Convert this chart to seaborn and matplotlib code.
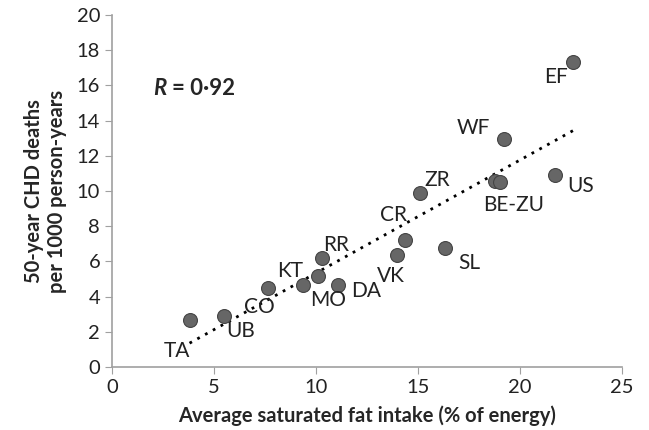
import numpy as np
import pandas as pd
import matplotlib
matplotlib.use("Agg")
import matplotlib.pyplot as plt
import seaborn as sns

# cohort codes, saturated fat (% energy), 50-year CHD deaths per 1000 person-years
cohorts = ["TA", "UB", "CO", "KT", "MO", "RR", "DA", "VK", "CR", "ZR",
           "SL", "BE", "ZU", "WF", "US", "EF"]
sat_fat = [3.8, 5.5, 7.65, 9.35, 10.1, 10.3, 11.1, 13.95, 14.35, 15.1,
           16.3, 18.75, 19.0, 19.2, 21.7, 22.6]
chd_deaths = [2.65, 2.9, 4.5, 4.65, 5.15, 6.2, 4.65, 6.35, 7.2, 9.9,
              6.75, 10.55, 10.5, 12.95, 10.9, 17.35]

x_ticks = [0, 5, 10, 15, 20, 25]
y_ticks = [0, 2, 4, 6, 8, 10, 12, 14, 16, 18, 20]

df = pd.DataFrame({"cohort": cohorts, "fat": sat_fat, "chd": chd_deaths})

sns.set_style("white")
plt.rcParams["font.family"] = ["Lato", "DejaVu Sans"]

fig = plt.figure(figsize=(6.49, 4.30), dpi=100)
ax = fig.add_axes([0.1726, 0.1465, 0.7858, 0.8185])

sns.scatterplot(data=df, x="fat", y="chd", ax=ax, s=100, color="#666666",
                edgecolor="#444444", linewidth=0.8, zorder=3)

# least squares trend line across the data range
slope, intercept = np.polyfit(df["fat"], df["chd"], 1)
xs = np.array([df["fat"].min(), df["fat"].max()])
ax.plot(xs, slope * xs + intercept, color="black", linestyle=(0, (1, 2.2)),
        linewidth=2, zorder=2)

# label offsets in points (dx, dy), halign
offsets = {
    "TA": (-9, -22, "center"), "UB": (12, -11, "center"), "CO": (-6, -14, "center"),
    "KT": (-9, 10, "center"), "MO": (7, -17, "center"), "RR": (10, 9, "center"),
    "DA": (9, -4, "left"), "VK": (-4, -15, "center"), "CR": (-8, 18, "center"),
    "ZR": (12, 9, "center"), "SL": (10, -11, "left"), "BE": (14, -17, "center"),
    "WF": (-22, 8, "center"), "US": (9, -8, "left"), "EF": (-12, -11, "center"),
}
for c, x, y in zip(cohorts, sat_fat, chd_deaths):
    if c == "ZU":
        continue
    dx, dy, ha = offsets[c]
    txt = "BE-ZU" if c == "BE" else c
    ax.annotate(txt, (x, y), xytext=(dx, dy), textcoords="offset points",
                ha=ha, va="center", fontsize=15, color="#222222")

ax.text(2.0, 15.85, "R", fontsize=16, fontweight="bold", fontstyle="italic",
        va="center", ha="left")
ax.annotate("= 0·92", (2.0, 15.85), xytext=(14, 0), textcoords="offset points",
            fontsize=16, fontweight="bold", va="center", ha="left")

ax.set_xlim(0, 25)
ax.set_ylim(0, 20)
ax.set_xticks(x_ticks)
ax.set_yticks(y_ticks)
ax.tick_params(axis="both", labelsize=14.5, length=5, color="#a0a0a0",
               direction="out", left=True, bottom=True, labelcolor="#222222")
for side in ["top", "right"]:
    ax.spines[side].set_visible(False)
for side in ["left", "bottom"]:
    ax.spines[side].set_color("#a0a0a0")
    ax.spines[side].set_linewidth(1.2)

ax.set_xlabel("Average saturated fat intake (% of energy)", fontsize=14.5,
              fontweight="bold", labelpad=7)
ax.set_ylabel("50-year CHD deaths\nper 1000 person-years", fontsize=14.5,
              fontweight="bold", labelpad=7)

fig.savefig("out.png", dpi=100)
